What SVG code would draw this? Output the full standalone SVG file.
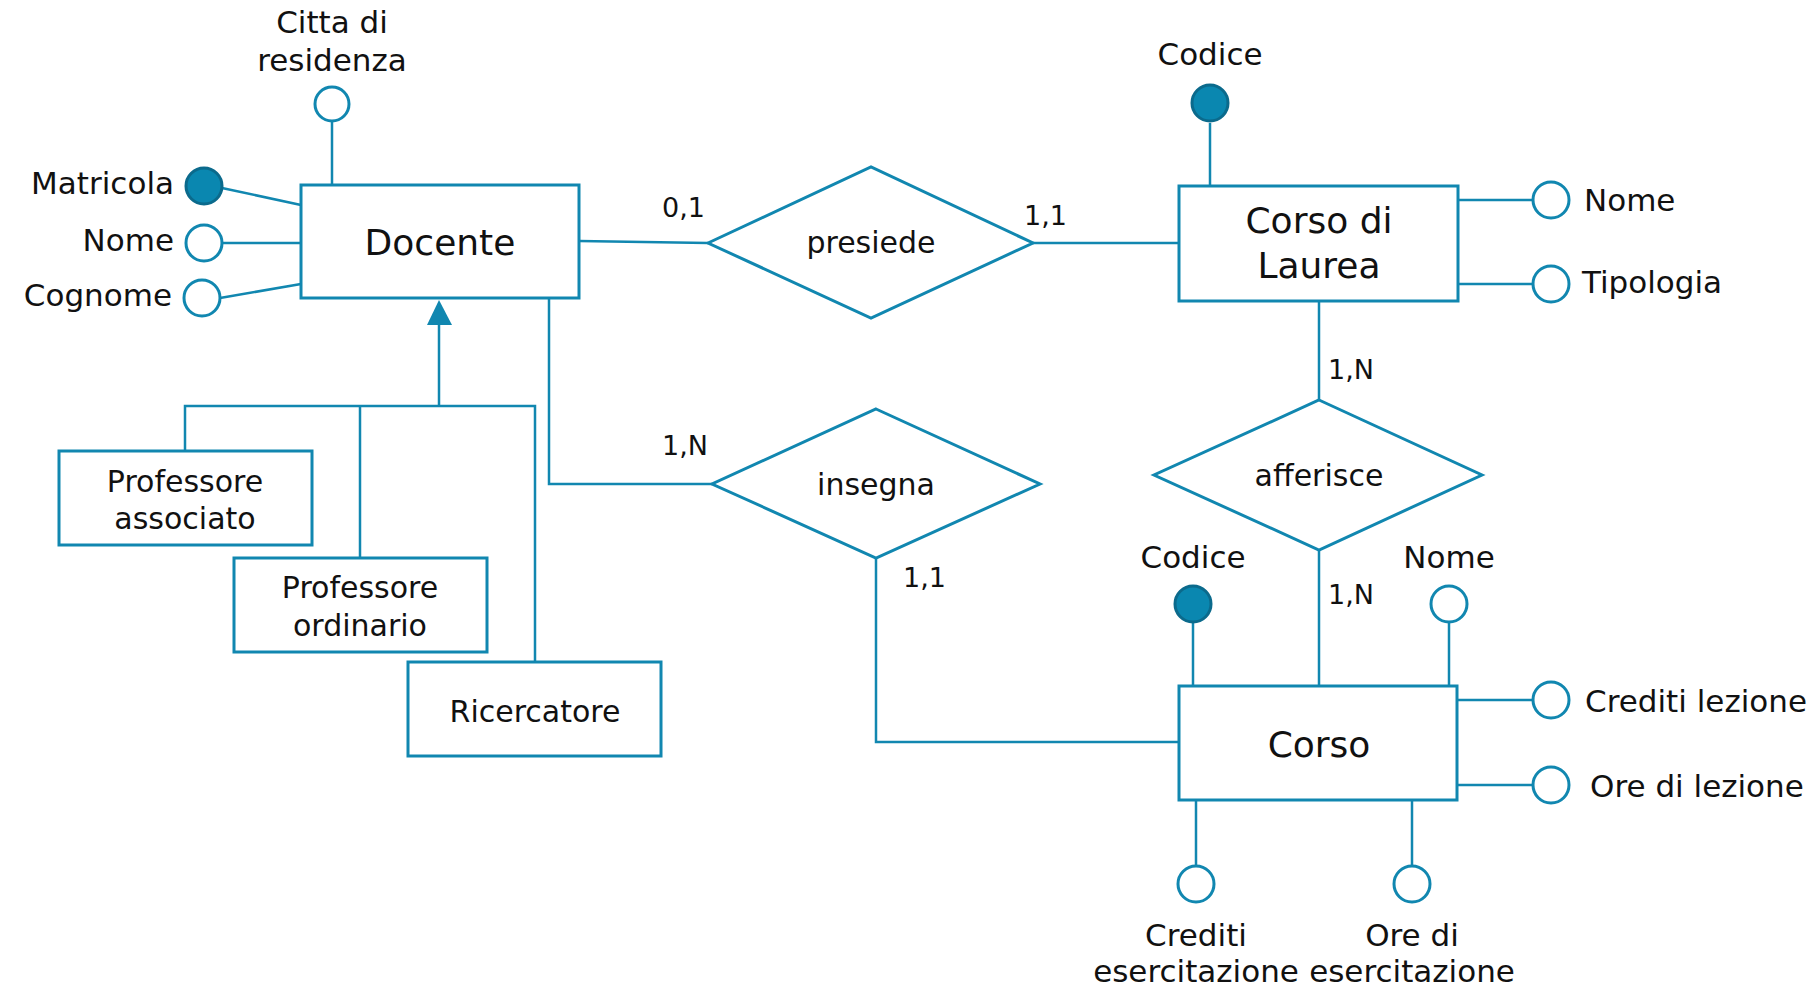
<svg xmlns="http://www.w3.org/2000/svg" width="1820" height="989" viewBox="0 0 1820 989">
<style>
.ent{fill:#fff;stroke:#1187b0;stroke-width:3}
.rel{fill:#fff;stroke:#1187b0;stroke-width:3}
.ln{fill:none;stroke:#1187b0;stroke-width:2.5}
.att{fill:#fff;stroke:#1187b0;stroke-width:3}
.key{fill:#0a87b0;stroke:#0b6a8c;stroke-width:3}
text{font-family:"DejaVu Sans","Liberation Sans",sans-serif;fill:#111}
.en{font-size:36px;text-anchor:middle}
.sb{font-size:30px;text-anchor:middle}
.at{font-size:31px}
.mid{text-anchor:middle}
.end{text-anchor:end}
.card{font-size:27px}
</style>
<rect width="1820" height="989" fill="#fff"/>
<g id="connectors">
  <line class="ln" x1="579" y1="241" x2="708" y2="243"/>
  <line class="ln" x1="1033" y1="243" x2="1179" y2="243"/>
  <line class="ln" x1="1319" y1="301" x2="1319" y2="400"/>
  <line class="ln" x1="1319" y1="550" x2="1319" y2="686"/>
  <polyline class="ln" points="549,298 549,484 712,484"/>
  <polyline class="ln" points="876,558 876,742 1179,742"/>
  <line class="ln" x1="439" y1="322" x2="439" y2="406"/>
  <polygon points="439,300 427,325 452,325" fill="#1187b0"/>
  <polyline class="ln" points="185,451 185,406 535,406 535,662"/>
  <line class="ln" x1="360" y1="406" x2="360" y2="558"/>
</g>
<g id="docente">
  <rect class="ent" x="301" y="185" width="278" height="113"/>
  <text class="en" x="440" y="255">Docente</text>
</g>
<g id="attr-citta">
  <line class="ln" x1="332" y1="121" x2="332" y2="185"/>
  <circle class="att" cx="332" cy="104" r="17"/>
  <text class="at mid" x="332" y="33">Citta di</text>
  <text class="at mid" x="332" y="71">residenza</text>
</g>
<g id="attr-matricola">
  <line class="ln" x1="222" y1="188" x2="301" y2="205"/>
  <circle class="key" cx="204" cy="186" r="18"/>
  <text class="at end" x="174" y="194">Matricola</text>
</g>
<g id="attr-nome-docente">
  <line class="ln" x1="222" y1="243" x2="301" y2="243"/>
  <circle class="att" cx="204" cy="243" r="18"/>
  <text class="at end" x="174" y="251">Nome</text>
</g>
<g id="attr-cognome">
  <line class="ln" x1="220" y1="298" x2="301" y2="284"/>
  <circle class="att" cx="202" cy="298" r="18"/>
  <text class="at end" x="172" y="306">Cognome</text>
</g>
<g id="presiede">
  <polygon class="rel" points="708,243 871,167 1033,243 871,318"/>
  <text class="sb" x="871" y="253">presiede</text>
  <text class="card" x="662" y="217">0,1</text>
  <text class="card" x="1024" y="225">1,1</text>
</g>
<g id="corso-di-laurea">
  <rect class="ent" x="1179" y="186" width="279" height="115"/>
  <text class="en" x="1319" y="233">Corso di</text>
  <text class="en" x="1319" y="278">Laurea</text>
</g>
<g id="attr-codice-cdl">
  <line class="ln" x1="1210" y1="123" x2="1210" y2="186"/>
  <circle class="key" cx="1210" cy="103" r="18"/>
  <text class="at mid" x="1210" y="65">Codice</text>
</g>
<g id="attr-nome-cdl">
  <line class="ln" x1="1458" y1="200" x2="1533" y2="200"/>
  <circle class="att" cx="1551" cy="200" r="18"/>
  <text class="at" x="1584" y="211">Nome</text>
</g>
<g id="attr-tipologia">
  <line class="ln" x1="1458" y1="284" x2="1533" y2="284"/>
  <circle class="att" cx="1551" cy="284" r="18"/>
  <text class="at" x="1582" y="293">Tipologia</text>
</g>
<g id="afferisce">
  <polygon class="rel" points="1319,400 1482,475 1319,550 1154,475"/>
  <text class="sb" x="1319" y="486">afferisce</text>
  <text class="card" x="1328" y="379">1,N</text>
  <text class="card" x="1328" y="604">1,N</text>
</g>
<g id="insegna">
  <polygon class="rel" points="876,409 1040,484 876,558 712,484"/>
  <text class="sb" x="876" y="495">insegna</text>
  <text class="card" x="662" y="455">1,N</text>
  <text class="card" x="903" y="587">1,1</text>
</g>
<g id="corso">
  <rect class="ent" x="1179" y="686" width="278" height="114"/>
  <text class="en" x="1319" y="757">Corso</text>
</g>
<g id="attr-codice-corso">
  <line class="ln" x1="1193" y1="622" x2="1193" y2="686"/>
  <circle class="key" cx="1193" cy="604" r="18"/>
  <text class="at mid" x="1193" y="568">Codice</text>
</g>
<g id="attr-nome-corso">
  <line class="ln" x1="1449" y1="622" x2="1449" y2="686"/>
  <circle class="att" cx="1449" cy="604" r="18"/>
  <text class="at mid" x="1449" y="568">Nome</text>
</g>
<g id="attr-crediti-lezione">
  <line class="ln" x1="1457" y1="700" x2="1533" y2="700"/>
  <circle class="att" cx="1551" cy="700" r="18"/>
  <text class="at" x="1585" y="712">Crediti lezione</text>
</g>
<g id="attr-ore-lezione">
  <line class="ln" x1="1457" y1="785" x2="1533" y2="785"/>
  <circle class="att" cx="1551" cy="785" r="18"/>
  <text class="at" x="1590" y="797">Ore di lezione</text>
</g>
<g id="attr-crediti-esercitazione">
  <line class="ln" x1="1196" y1="800" x2="1196" y2="866"/>
  <circle class="att" cx="1196" cy="884" r="18"/>
  <text class="at mid" x="1196" y="946">Crediti</text>
  <text class="at mid" x="1196" y="982">esercitazione</text>
</g>
<g id="attr-ore-esercitazione">
  <line class="ln" x1="1412" y1="800" x2="1412" y2="866"/>
  <circle class="att" cx="1412" cy="884" r="18"/>
  <text class="at mid" x="1412" y="946">Ore di</text>
  <text class="at mid" x="1412" y="982">esercitazione</text>
</g>
<g id="professore-associato">
  <rect class="ent" x="59" y="451" width="253" height="94"/>
  <text class="sb" x="185" y="492">Professore</text>
  <text class="sb" x="185" y="529">associato</text>
</g>
<g id="professore-ordinario">
  <rect class="ent" x="234" y="558" width="253" height="94"/>
  <text class="sb" x="360" y="598">Professore</text>
  <text class="sb" x="360" y="636">ordinario</text>
</g>
<g id="ricercatore">
  <rect class="ent" x="408" y="662" width="253" height="94"/>
  <text class="sb" x="535" y="722">Ricercatore</text>
</g>
</svg>
